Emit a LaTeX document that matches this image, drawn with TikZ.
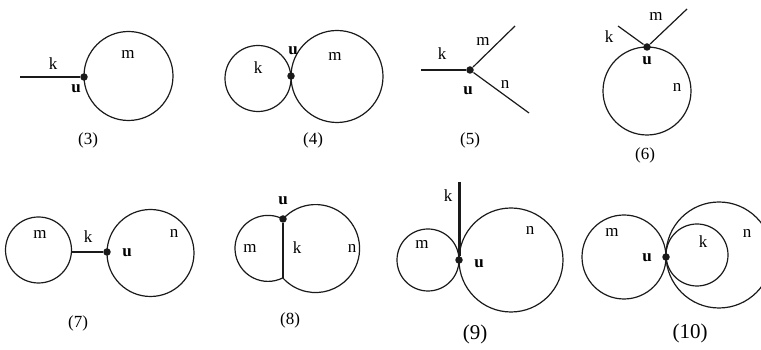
\documentclass[tikz,border=0pt]{standalone}
\usepackage{fontspec}
\setmainfont{Liberation Serif}
\usetikzlibrary{positioning}
\definecolor{inkline}{HTML}{1A1A1A}
\newcommand{\vtx}[3]{%
  \node[circle, fill=inkline, inner sep=0pt, minimum size=7.5pt] (#1) at (#2,#3) {};}
\newcommand{\lbl}[4]{%
  \node[inner sep=0pt, font=\fontsize{17}{19}\selectfont] (#1) at (#2,#3) {#4};}
\newcommand{\figno}[4]{%
  \node[inner sep=0pt, font=\fontsize{#4}{20}\selectfont] (f#1) at (#2,#3) {(#1)};}

\begin{document}
\begin{tikzpicture}[x=1pt, y=1pt, line width=1.2pt, draw=inkline]
      \useasboundingbox (0,0) rectangle (761,350);
      \clip (0,0) rectangle (761,350);
      % (3)
      \vtx{u3}{84}{273}
      \coordinate (k3) at (20,273);
      \draw (k3) -- (u3);
      \draw (128.5,274) circle[radius=44.5];
      \lbl{lk3}{53}{286}{k}
      \lbl{lm3}{128}{295}{m}
      \lbl{lu3}{76}{261}{\textbf{u}}
      \figno{3}{88}{210}{17}
      % (4)
      \vtx{u4}{291}{274}
      \draw (258,271.5) circle[radius=33];
      \draw (337,273.5) circle[radius=46];
      \lbl{lk4}{258}{282}{k}
      \lbl{lm4}{335}{293}{m}
      \lbl{lu4}{293}{299}{\textbf{u}}
      \figno{4}{313}{210}{17}
      % (5)
      \vtx{u5}{470}{280}
      \coordinate (k5) at (421,280);
      \coordinate (m5) at (515,324);
      \coordinate (n5) at (529,237);
      \draw (k5) -- (u5);
      \draw (u5) -- (m5);
      \draw (u5) -- (n5);
      \lbl{lk5}{442}{296}{k}
      \lbl{lm5}{483}{308}{m}
      \lbl{lu5}{468}{259}{\textbf{u}}
      \lbl{ln5}{505}{265}{n}
      \figno{5}{470}{210}{17}
      % (6)
      \vtx{u6}{647}{303}
      \coordinate (k6) at (618,324);
      \coordinate (m6) at (687,341);
      \draw (k6) -- (u6);
      \draw (u6) -- (m6);
      \draw (647,259) circle[radius=44];
      \lbl{lk6}{609}{313}{k}
      \lbl{lm6}{656}{333}{m}
      \lbl{lu6}{647}{289}{\textbf{u}}
      \lbl{ln6}{677}{262}{n}
      \figno{6}{645}{195}{17}
      % (7)
      \vtx{u7}{107}{98}
      \coordinate (k7) at (71.5,98);
      \draw (k7) -- (u7);
      \draw (38.5,100) circle[radius=33];
      \draw (150.5,97) circle[radius=43.5];
      \lbl{lm7}{40}{115}{m}
      \lbl{lk7}{88}{113}{k}
      \lbl{lu7}{127}{97}{\textbf{u}}
      \lbl{ln7}{174}{117}{n}
      \figno{7}{78}{27}{17}
      % (8)
      \vtx{u8}{283}{131}
      \coordinate (b8) at (283,72);
      \draw (u8) -- (b8);
      \draw (u8.center) arc[start angle=63, end angle=297, radius=33];
      \draw (u8.center) arc[start angle=137.8, end angle=-137.8, radius=44];
      \lbl{lu8}{283}{149}{\textbf{u}}
      \lbl{lm8}{250}{102}{m}
      \lbl{lk8}{297}{102}{k}
      \lbl{ln8}{352}{102}{n}
      \figno{8}{290}{30}{17}
      % (9)
      \vtx{u9}{459}{90}
      \coordinate (k9) at (459,168);
      \draw[line width=3pt] (k9) -- (u9);
      \draw (428,90) circle[radius=31];
      \draw (511,90) circle[radius=52];
      \lbl{lk9}{448}{154}{k}
      \lbl{lm9}{422}{106}{m}
      \lbl{lu9}{479}{86}{\textbf{u}}
      \lbl{ln9}{530}{120}{n}
      \figno{9}{475}{16}{21}
      % (10)
      \vtx{u10}{666}{93}
      \draw (624,93) circle[radius=42];
      \draw (719,95) circle[radius=53];
      \draw (697,95) circle[radius=31];
      \lbl{lm10}{612}{118}{m}
      \lbl{lk10}{703}{108}{k}
      \lbl{ln10}{747}{117}{n}
      \lbl{lu10}{647}{92}{\textbf{u}}
      \figno{10}{690}{17}{21}
    \end{tikzpicture}
\end{document}
